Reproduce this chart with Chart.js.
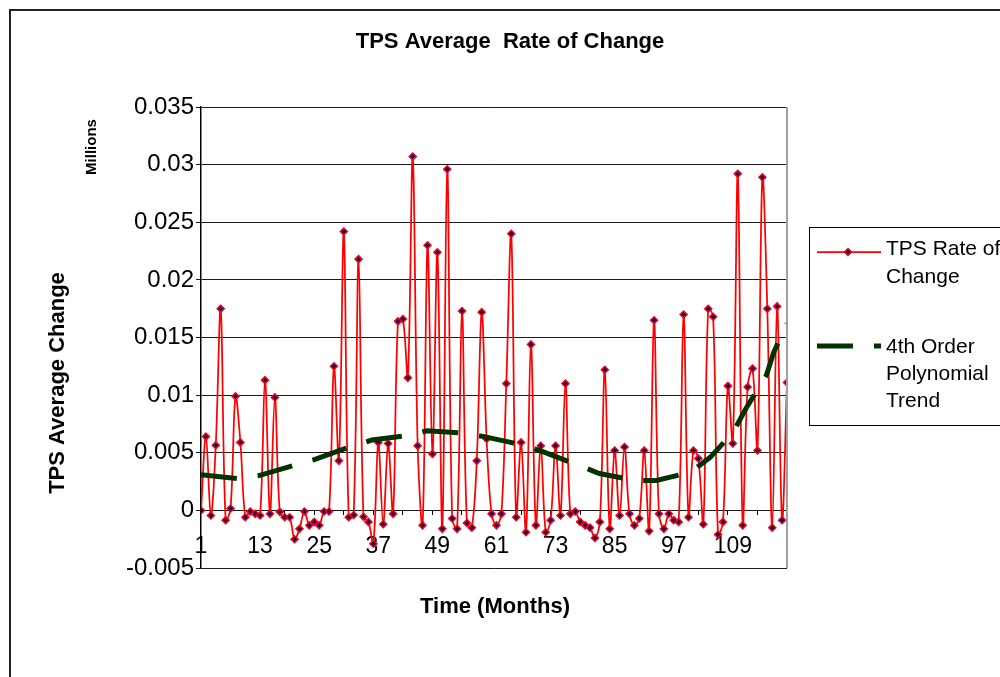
<!DOCTYPE html>
<html>
<head>
<meta charset="utf-8">
<title>TPS Average Rate of Change</title>
<script src="https://cdn.jsdelivr.net/npm/chart.js@4.4.1/dist/chart.umd.min.js"></script>
<style>
  html, body { margin: 0; padding: 0; background: #fff; }
</style>
</head>
<body>
<canvas id="chart" width="1000" height="677"></canvas>
<script>
var chartTitle = 'TPS Average  Rate of Change';
var xTitle = 'Time (Months)';
var yTitle = 'TPS Average Change';
var unitLabel = 'Millions';
var seriesNames = [['TPS Rate of', 'Change'], ['4th Order', 'Polynomial', 'Trend']];

// months 1..120 on the category axis
var months = Array.from({length: 120}, function(_, i) { return i + 1; });
var xTickLabels = [1, 13, 25, 37, 49, 61, 73, 85, 97, 109];
var xTickMarks = [6, 12, 18, 24, 30, 36, 42, 48, 54, 60, 66, 72, 78, 84, 90, 96, 102, 108, 114, 120];
var yTickValues = [-0.005, 0, 0.005, 0.01, 0.015, 0.02, 0.025, 0.03, 0.035];

// TPS rate of change (millions), read month by month
var rateValues = [
  0, 0.0064, -0.00045, 0.00565, 0.0175, -0.00085, 0.00016, 0.0099, 0.0059, -0.0006,
  -0.0001, -0.0003, -0.00045, 0.0113, -0.0003, 0.0098, -0.00013, -0.0006, -0.0006, -0.0025,
  -0.0016, -0.0001, -0.0013, -0.001, -0.0013, -0.0001, -0.0001, 0.0125, 0.0043, 0.0242,
  -0.0006, -0.0004, 0.0218, -0.00056, -0.001, -0.0029, 0.0059, -0.0012, 0.0058, -0.0003,
  0.0164, 0.0166, 0.0115, 0.0307, 0.0056, -0.0013, 0.023, 0.0049, 0.0224, -0.0016,
  0.0296, -0.0007, -0.0016, 0.0173, -0.0011, -0.0015, 0.0043, 0.0172, 0.0062, -0.0003,
  -0.0013, -0.0003, 0.011, 0.024, -0.0006, 0.0059, -0.0019, 0.0144, -0.0013, 0.0056,
  -0.0019, -0.00085, 0.0056, -0.00045, 0.011, -0.0003, -0.0001, -0.001, -0.0013, -0.0015,
  -0.0024, -0.001, 0.0122, -0.0016, 0.0052, -0.00045, 0.0055, -0.0003, -0.0013, -0.0007,
  0.0052, -0.0018, 0.0165, -0.0003, -0.0016, -0.0003, -0.00085, -0.001, 0.017, -0.0006,
  0.0052, 0.0045, -0.0012, 0.0175, 0.0168, -0.0021, -0.001, 0.0108, 0.0058, 0.0292,
  -0.0013, 0.0107, 0.0123, 0.0052, 0.0289, 0.0175, -0.0015, 0.0177, -0.00085, 0.0111
];

// 4th order polynomial trend, read at the ends of the dashes
var trendMonths = [1, 8.5, 12.6, 19.8, 24, 31.2, 35.7, 42.9, 46.9, 54.6, 58.5, 66,
  70.4, 77.7, 81.9, 89, 93.5, 100.4, 104.4, 109.1, 111.6, 115.8, 117.3, 120];
var trendValues = [0.0031, 0.00276, 0.0030, 0.0039, 0.0044, 0.0055, 0.0061, 0.0065,
  0.0069, 0.0067, 0.0064, 0.0057, 0.0051, 0.0039, 0.0032, 0.0026, 0.0026, 0.0033,
  0.0046, 0.0068, 0.0088, 0.0117, 0.0137, 0.0162];

var FONT = '"Liberation Sans", Arial, sans-serif';
var RED = '#ff0000';
var NAVY = '#000080';
var GREEN = '#003300';

function diamond(ctx, x, y, r) {
  ctx.beginPath();
  ctx.moveTo(x, y - r);
  ctx.lineTo(x + r, y);
  ctx.lineTo(x, y + r);
  ctx.lineTo(x - r, y);
  ctx.closePath();
  ctx.fillStyle = NAVY;
  ctx.fill();
  ctx.lineWidth = 1.5;
  ctx.strokeStyle = RED;
  ctx.stroke();
}

var decor = {
  id: 'decor',
  afterDraw: function(chart) {
    var ctx = chart.ctx;
    var a = chart.chartArea;
    ctx.save();

    // outer frame
    ctx.strokeStyle = '#222';
    ctx.lineWidth = 2;
    ctx.beginPath();
    ctx.moveTo(10, 677);
    ctx.lineTo(10, 10);
    ctx.lineTo(1000, 10);
    ctx.stroke();

    // plot area right edge
    ctx.strokeStyle = '#a0a0a0';
    ctx.lineWidth = 2;
    ctx.beginPath();
    ctx.moveTo(a.right, a.top);
    ctx.lineTo(a.right, a.bottom);
    ctx.stroke();

    // titles
    ctx.fillStyle = '#000';
    ctx.textAlign = 'center';
    ctx.textBaseline = 'middle';
    ctx.font = 'bold 22px ' + FONT;
    ctx.fillText(chartTitle, 510, 42);
    ctx.fillText(xTitle, 495, 607);
    ctx.save();
    ctx.translate(58, 383);
    ctx.rotate(-Math.PI / 2);
    ctx.fillText(yTitle, 0, 0);
    ctx.restore();
    ctx.font = 'bold 15px ' + FONT;
    ctx.save();
    ctx.translate(92, 147);
    ctx.rotate(-Math.PI / 2);
    ctx.fillText(unitLabel, 0, 0);
    ctx.restore();

    // legend
    ctx.strokeStyle = '#000';
    ctx.lineWidth = 1;
    ctx.strokeRect(809.5, 227.5, 300, 198);

    ctx.strokeStyle = RED;
    ctx.lineWidth = 1.75;
    ctx.beginPath();
    ctx.moveTo(817, 252);
    ctx.lineTo(881, 252);
    ctx.stroke();
    diamond(ctx, 848, 252, 3.5);

    ctx.strokeStyle = GREEN;
    ctx.lineWidth = 5;
    ctx.setLineDash([36, 21]);
    ctx.beginPath();
    ctx.moveTo(817, 346);
    ctx.lineTo(881, 346);
    ctx.stroke();
    ctx.setLineDash([]);

    ctx.fillStyle = '#000';
    ctx.textAlign = 'left';
    ctx.font = '21px ' + FONT;
    seriesNames[0].forEach(function(t, i) { ctx.fillText(t, 886, 249 + i * 28); });
    seriesNames[1].forEach(function(t, i) { ctx.fillText(t, 886, 347 + i * 27); });

    ctx.restore();
  }
};

function fmt(v) {
  return String(parseFloat(Number(v).toFixed(4)));
}

new Chart('chart', {
  type: 'line',
  data: {
    datasets: [
      {
        label: 'TPS Rate of Change',
        data: months.map(function(m, i) { return {x: m, y: rateValues[i]}; }),
        borderColor: RED,
        borderWidth: 1.75,
        tension: 0.35,
        pointStyle: 'rectRot',
        pointRadius: 3.5,
        pointBorderWidth: 1.5,
        pointBorderColor: RED,
        pointBackgroundColor: NAVY,
        order: 2
      },
      {
        label: '4th Order Polynomial Trend',
        data: trendMonths.map(function(m, i) { return {x: m, y: trendValues[i]}; }),
        borderColor: GREEN,
        borderWidth: 5,
        borderDash: [36, 21],
        borderCapStyle: 'butt',
        pointRadius: 0,
        tension: 0,
        order: 1
      }
    ]
  },
  options: {
    responsive: false,
    animation: false,
    layout: { padding: { left: 0, top: 107, right: 213, bottom: 109 } },
    plugins: {
      legend: { display: false },
      title: { display: false },
      tooltip: { enabled: false }
    },
    scales: {
      x: {
        type: 'linear',
        min: 1,
        max: 120,
        position: { y: 0 },
        afterBuildTicks: function(scale) {
          scale.ticks = xTickLabels.map(function(v) { return {value: v}; });
        },
        border: { display: false },
        grid: { display: false, drawTicks: false },
        ticks: {
          padding: 22,
          maxRotation: 0,
          autoSkip: false,
          color: '#000',
          font: { family: FONT, size: 23 },
          callback: function(v) { return String(v); }
        }
      },
      xt: {
        type: 'linear',
        axis: 'x',
        min: 1,
        max: 120,
        position: { y: 0 },
        afterBuildTicks: function(scale) {
          scale.ticks = xTickMarks.map(function(v) { return {value: v}; });
        },
        border: { display: false },
        grid: { drawOnChartArea: false, color: '#000', tickLength: 5 },
        ticks: { display: false }
      },
      y: {
        min: -0.005,
        max: 0.035,
        afterBuildTicks: function(scale) {
          scale.ticks = yTickValues.map(function(v) { return {value: v}; });
        },
        afterFit: function(scale) { scale.width = 201; },
        border: { display: true, color: '#000', width: 1.5 },
        grid: { color: '#1a1a1a', lineWidth: 1, tickLength: 5 },
        ticks: {
          padding: 2,
          color: '#000',
          font: { family: FONT, size: 24 },
          callback: fmt
        }
      }
    }
  },
  plugins: [decor]
});
</script>
</body>
</html>
